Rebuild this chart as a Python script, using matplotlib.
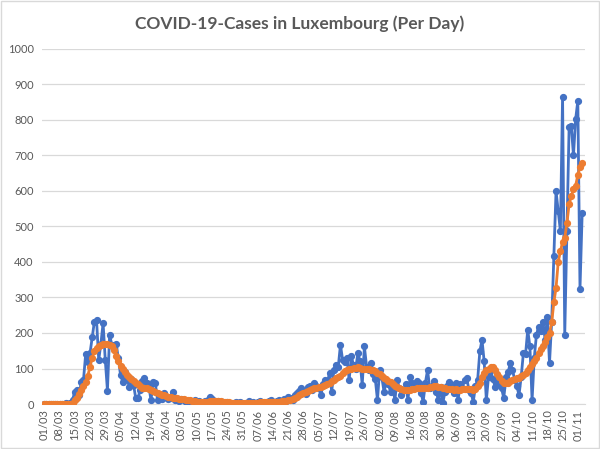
import pandas as pd
import matplotlib.pyplot as plt
from matplotlib.patches import Rectangle

# daily new cases, one row per week starting 01/03/2020
cases = [
    0, 0, 0, 0, 0, 0, 1,
    0, 1, 0, 2, 1, 3, 12,
    35, 40, 24, 63, 68, 140, 118,
    143, 188, 232, 236, 124, 170, 228,
    124, 38, 195, 167, 157, 170, 129,
    82, 63, 91, 73, 49, 70, 54,
    16, 16, 40, 64, 72, 58, 50,
    11, 63, 58, 11, 20, 15, 30,
    21, 14, 18, 35, 10, 12, 8,
    15, 10, 6, 5, 2, 4, 10,
    3, 9, 4, 2, 9, 12, 21,
    15, 3, 6, 8, 2, 5, 4,
    7, 3, 1, 4, 6, 2, 5,
    3, 0, 4, 8, 2, 6, 3,
    5, 8, 1, 4, 3, 9, 11,
    6, 4, 9, 12, 6, 14, 8,
    21, 18, 10, 25, 30, 38, 44,
    35, 28, 48, 52, 40, 58, 50,
    45, 25, 55, 68, 62, 87, 35,
    96, 110, 105, 167, 124, 118, 130,
    68, 134, 110, 100, 143, 120, 54,
    162, 105, 95, 115, 85, 70, 11,
    96, 75, 35, 60, 55, 35, 50,
    11, 68, 45, 25, 40, 55, 11,
    77, 60, 45, 65, 58, 30, 7,
    60, 96, 44, 50, 65, 35, 10,
    48, 2, 35, 50, 63, 54, 30,
    58, 11, 55, 45, 68, 72, 40,
    30, 7, 50, 68, 148, 181, 120,
    11, 77, 96, 70, 49, 63, 55,
    44, 16, 77, 90, 115, 96, 68,
    50, 25, 77, 143, 140, 209, 162,
    11, 130, 195, 218, 205, 232, 180,
    246, 115, 232, 418, 600, 543, 487,
    866, 195, 487, 779, 783, 700, 802,
    854, 324, 537,
]

# smoothed line
smoothed = [
    0, 0, 0, 0, 0, 0, 0,
    0, 0, 0, 0, 0, 0, 3,
    10, 18, 28, 40, 52, 62, 80,
    105, 130, 150, 158, 162, 166, 168,
    170, 170, 167, 162, 152, 135, 120,
    108, 98, 90, 83, 76, 70, 65,
    60, 55, 50, 46, 46, 44, 42,
    40, 36, 33, 30, 27, 25, 24,
    22, 20, 19, 18, 17, 16, 15,
    14, 13, 12, 11, 10, 9, 8,
    7, 7, 6, 6, 6, 7, 8,
    9, 9, 9, 8, 8, 7, 6,
    5, 5, 4, 4, 4, 4, 4,
    4, 3, 4, 4, 4, 4, 4,
    4, 5, 5, 5, 5, 6, 6,
    6, 6, 6, 7, 8, 8, 9,
    10, 11, 14, 16, 20, 24, 28,
    31, 34, 37, 40, 42, 44, 46,
    48, 49, 50, 53, 56, 60, 64,
    68, 72, 76, 80, 86, 92, 96,
    99, 100, 101, 102, 103, 102, 100,
    100, 99, 98, 97, 95, 92, 88,
    84, 79, 74, 70, 66, 62, 57,
    52, 48, 44, 42, 40, 39, 39,
    40, 42, 43, 44, 45, 44, 44,
    44, 45, 47, 48, 50, 50, 49,
    48, 46, 44, 42, 41, 41, 40,
    41, 40, 40, 41, 42, 43, 42,
    41, 40, 42, 50, 60, 75, 88,
    95, 100, 104, 103, 95, 85, 75,
    66, 60, 58, 60, 65, 68, 70,
    72, 74, 78, 82, 88, 96, 105,
    112, 120, 130, 145, 155, 162, 175,
    188, 200, 230, 286, 327, 400, 430,
    456, 468, 510, 562, 586, 605, 615,
    645, 668, 680,
]

tick_labels = [
    '01/03', '08/03', '15/03', '22/03', '29/03', '05/04', '12/04', '19/04',
    '26/04', '03/05', '10/05', '17/05', '24/05', '31/05', '07/06', '14/06',
    '21/06', '28/06', '05/07', '12/07', '19/07', '26/07', '02/08', '09/08',
    '16/08', '23/08', '30/08', '06/09', '13/09', '20/09', '27/09', '04/10',
    '11/10', '18/10', '25/10', '01/11',
]

plt.rcParams['font.family'] = ['Lato', 'DejaVu Sans']
grey = '#595959'

dates = pd.date_range('2020-03-01', periods=len(cases), freq='D')

fig = plt.figure(figsize=(6, 4.49), dpi=100)
ax = fig.add_axes([0.07, 0.1002, 0.905, 0.7908])

ax.plot(dates, cases, color='#4472C4', lw=2, marker='o', ms=4.2, zorder=3)
ax.plot(dates, smoothed, color='#ED7D31', lw=2, marker='o', ms=4.2, zorder=4)

ax.set_ylim(0, 1000)
ax.set_yticks(range(0, 1001, 100))
ax.set_xlim(dates[0] - pd.Timedelta(days=1.05), dates[0] + pd.Timedelta(days=248.3))
ax.set_xticks(dates[::7][:len(tick_labels)])
ax.set_xticklabels(tick_labels, rotation=90)

ax.grid(axis='y', color='#d9d9d9', lw=0.9)
ax.set_axisbelow(True)
for s in ['top', 'right', 'left']:
    ax.spines[s].set_visible(False)
ax.spines['bottom'].set_color('#d9d9d9')
ax.tick_params(length=0, labelsize=8, colors=grey)
ax.tick_params(axis='y', pad=6)
ax.tick_params(axis='x', pad=4)

fig.suptitle('COVID-19-Cases in Luxembourg (Per Day)', x=0.5, y=0.965,
             fontsize=12.5, fontweight='bold', color=grey)

fig.patches.append(Rectangle((0.002, 0.002), 0.996, 0.995, transform=fig.transFigure,
                             fill=False, edgecolor='#d9d9d9', lw=1))

plt.savefig('out.png')
